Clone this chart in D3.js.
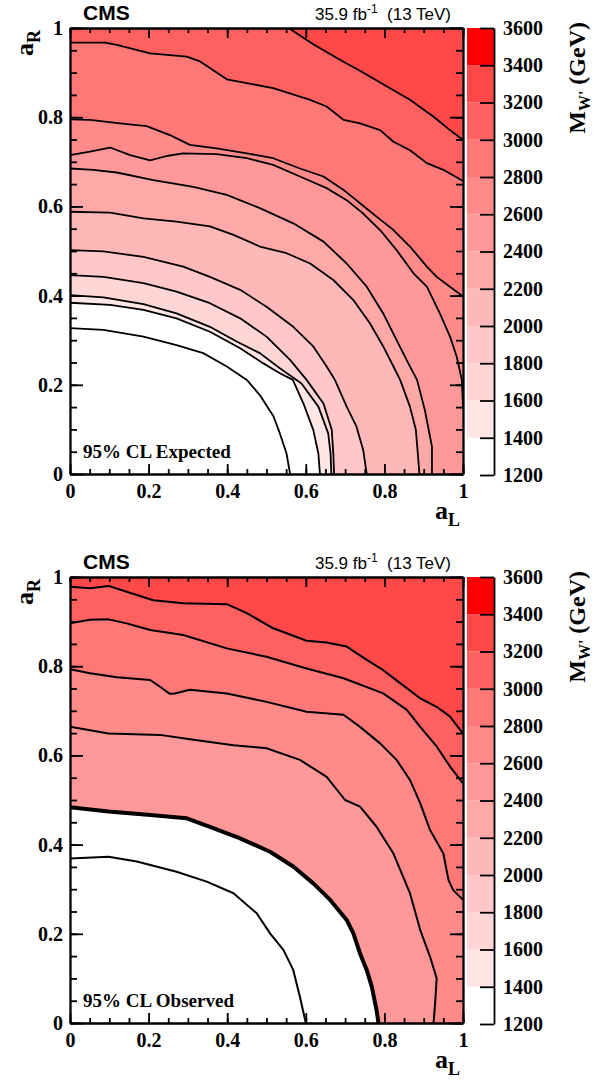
<!DOCTYPE html>
<html>
<head>
<meta charset="utf-8">
<script src="https://cdn.jsdelivr.net/npm/d3@7"></script>
<style>
  body { margin: 0; background: #fff; }
</style>
</head>
<body>
<div id="chart"></div>
<script>
// colour bar levels (GeV) and the fill of each band between them
const zLevels = [1200, 1400, 1600, 1800, 2000, 2200, 2400, 2600, 2800, 3000, 3200, 3400, 3600];
const bandColors = ["#ffffff", "#ffe6e6", "#ffd6d6", "#ffc7c7", "#ffb8b8", "#ffa8a8",
                    "#ff9999", "#ff8a8a", "#ff7878", "#ff6060", "#ff4848", "#ff0000"];
const xTicks = [0, 0.2, 0.4, 0.6, 0.8, 1];
const yTicks = [0, 0.2, 0.4, 0.6, 0.8, 1];

// expected limit contours, [aL, aR] points, one per level
const expLevels = [1200, 1400, 1600, 1800, 2000, 2200, 2400, 2600, 2800, 3000, 3200];
const expContours = [
  [[0,0.327],[0.085,0.323],[0.187,0.308],[0.271,0.289],[0.339,0.271],[0.399,0.241],[0.45,0.211],[0.483,0.177],[0.518,0.129],[0.534,0.091],[0.551,0.046],[0.56,0]],
  [[0,0.384],[0.102,0.379],[0.187,0.368],[0.271,0.349],[0.356,0.319],[0.433,0.282],[0.492,0.248],[0.534,0.226],[0.567,0.211],[0.594,0.158],[0.619,0.099],[0.632,0.046],[0.636,0]],
  [[0,0.401],[0.085,0.396],[0.187,0.381],[0.271,0.36],[0.356,0.33],[0.424,0.297],[0.483,0.271],[0.534,0.237],[0.589,0.203],[0.632,0.151],[0.657,0.091],[0.663,0.046],[0.665,0]],
  [[0,0.446],[0.085,0.442],[0.187,0.428],[0.271,0.409],[0.356,0.383],[0.433,0.349],[0.5,0.308],[0.56,0.256],[0.602,0.211],[0.645,0.158],[0.666,0.099],[0.67,0.046],[0.672,0]],
  [[0,0.502],[0.085,0.499],[0.187,0.487],[0.288,0.465],[0.356,0.442],[0.433,0.413],[0.5,0.375],[0.568,0.33],[0.619,0.286],[0.653,0.241],[0.674,0.211],[0.704,0.151],[0.729,0.106],[0.746,0.054],[0.755,0]],
  [[0,0.588],[0.102,0.586],[0.187,0.573],[0.271,0.566],[0.356,0.555],[0.416,0.536],[0.483,0.51],[0.551,0.495],[0.611,0.472],[0.67,0.435],[0.721,0.39],[0.763,0.338],[0.797,0.286],[0.823,0.241],[0.84,0.211],[0.865,0.151],[0.88,0.099],[0.885,0.046],[0.889,0]],
  [[0,0.685],[0.059,0.682],[0.119,0.676],[0.212,0.659],[0.314,0.644],[0.399,0.626],[0.483,0.596],[0.568,0.562],[0.645,0.521],[0.704,0.472],[0.755,0.42],[0.797,0.36],[0.831,0.3],[0.861,0.248],[0.883,0.211],[0.903,0.143],[0.916,0.084],[0.921,0.061],[0.921,0]],
  [[0,0.715],[0.051,0.723],[0.102,0.732],[0.153,0.715],[0.204,0.703],[0.246,0.713],[0.288,0.719],[0.373,0.717],[0.45,0.708],[0.517,0.693],[0.585,0.667],[0.653,0.641],[0.704,0.614],[0.746,0.584],[0.789,0.547],[0.831,0.502],[0.874,0.45],[0.908,0.42],[0.941,0.36],[0.967,0.308],[0.984,0.263],[0.997,0.211],[1,0.15]],
  [[0,0.795],[0.051,0.794],[0.127,0.786],[0.195,0.78],[0.254,0.76],[0.305,0.738],[0.373,0.73],[0.45,0.719],[0.517,0.708],[0.585,0.685],[0.645,0.667],[0.696,0.637],[0.738,0.607],[0.78,0.577],[0.823,0.547],[0.865,0.51],[0.908,0.465],[0.933,0.442],[1,0.398]],
  [[0,0.967],[0.089,0.967],[0.119,0.962],[0.204,0.943],[0.254,0.939],[0.297,0.936],[0.331,0.925],[0.399,0.885],[0.517,0.865],[0.611,0.839],[0.653,0.824],[0.696,0.794],[0.738,0.786],[0.789,0.771],[0.823,0.745],[0.865,0.726],[0.908,0.697],[0.95,0.682],[1,0.657]],
  [[0.556,1],[0.62,0.963],[0.68,0.932],[0.74,0.903],[0.8,0.872],[0.865,0.839],[0.925,0.801],[0.967,0.771],[1,0.749]]
];

// observed limit contours; 1400-2400 all fall on the same (thick) line
const obsLevels = [1200, 2400, 2600, 2800, 3000, 3200];
const obsContours = [
  [[0,0.369],[0.098,0.373],[0.17,0.362],[0.271,0.339],[0.348,0.317],[0.416,0.291],[0.475,0.246],[0.509,0.201],[0.543,0.164],[0.568,0.119],[0.585,0.059],[0.6,0]],
  [[0,0.484],[0.098,0.474],[0.212,0.466],[0.297,0.459],[0.356,0.44],[0.433,0.414],[0.509,0.384],[0.568,0.351],[0.619,0.313],[0.662,0.276],[0.704,0.231],[0.721,0.201],[0.738,0.156],[0.755,0.119],[0.768,0.081],[0.78,0.029],[0.785,0]],
  [[0,0.664],[0.098,0.649],[0.229,0.646],[0.314,0.635],[0.416,0.623],[0.5,0.616],[0.585,0.59],[0.653,0.552],[0.7,0.5],[0.738,0.485],[0.78,0.44],[0.823,0.38],[0.865,0.291],[0.891,0.209],[0.916,0.149],[0.933,0.1],[0.929,0.044],[0.925,0]],
  [[0,0.793],[0.051,0.784],[0.119,0.775],[0.204,0.769],[0.229,0.754],[0.254,0.738],[0.267,0.739],[0.305,0.747],[0.399,0.739],[0.5,0.72],[0.602,0.698],[0.696,0.691],[0.738,0.664],[0.789,0.627],[0.831,0.59],[0.865,0.545],[0.891,0.493],[0.916,0.433],[0.95,0.38],[0.963,0.321],[0.975,0.298],[1,0.276]],
  [[0,0.896],[0.051,0.904],[0.098,0.905],[0.144,0.896],[0.204,0.881],[0.288,0.87],[0.399,0.84],[0.5,0.821],[0.602,0.795],[0.696,0.773],[0.797,0.739],[0.857,0.702],[0.891,0.664],[0.933,0.62],[0.967,0.575],[1,0.537]],
  [[0,0.978],[0.051,0.975],[0.098,0.98],[0.144,0.967],[0.212,0.948],[0.288,0.941],[0.399,0.939],[0.45,0.919],[0.517,0.885],[0.602,0.857],[0.653,0.853],[0.704,0.844],[0.755,0.814],[0.797,0.791],[0.84,0.762],[0.891,0.728],[0.933,0.709],[0.967,0.687],[1,0.649]]
];

const serif = "'Liberation Serif', 'Times New Roman', serif";
const sans = "'Liberation Sans', Arial, sans-serif";

let w = 612;
let h = 1081;
let left = 70, right = 463;
let barX = 467, barW = 27;

const panels = [
  { top: 28, bottom: 474, levels: expLevels, contours: expContours, label: "95% CL Expected", lineW: 1.8 },
  { top: 577, bottom: 1023, levels: obsLevels, contours: obsContours, label: "95% CL Observed", lineW: 2 }
];

const svg = d3.select("#chart").append("svg").attr("width", w).attr("height", h);

const xScale = d3.scaleLinear().domain([0, 1]).range([left, right]);
const color = d3.scaleThreshold().domain(zLevels.slice(1, -1)).range(bandColors);
const minor = d3.range(21).map((i) => i * 0.05);

// ROOT-like styling; each tick mark becomes a small filled rect
function styleAxis(g) {
  g.selectAll(".tick line").each(function () {
    let ln = d3.select(this);
    let x2 = +ln.attr("x2") || 0;
    let y2 = +ln.attr("y2") || 0;
    let vertical = y2 !== 0;
    d3.select(this.parentNode).insert("rect", "line")
      .attr("x", vertical ? -0.9 : Math.min(0, x2))
      .attr("y", vertical ? Math.min(0, y2) : -0.9)
      .attr("width", vertical ? 1.8 : Math.abs(x2))
      .attr("height", vertical ? Math.abs(y2) : 1.8)
      .attr("fill", "#000");
    ln.remove();
  });
  g.selectAll(".domain").attr("stroke", "#000").attr("stroke-width", 1.8);
  g.attr("font-family", serif).attr("font-weight", "bold").attr("font-size", 20);
  g.selectAll("text").attr("fill", "#000");
}

panels.forEach((p, i) => {
  let yScale = d3.scaleLinear().domain([0, 1]).range([p.bottom, p.top]);
  let zScale = d3.scaleLinear().domain([1200, 3600]).range([p.bottom + 1, p.top]);
  let line = d3.line().x((d) => xScale(d[0])).y((d) => yScale(d[1]));

  let g = svg.append("g");
  g.append("clipPath").attr("id", "clip" + i)
    .append("rect")
    .attr("x", left).attr("y", p.top)
    .attr("width", right - left).attr("height", p.bottom - p.top);

  let plot = g.append("g").attr("clip-path", `url(#clip${i})`);
  plot.append("rect")
    .attr("x", left).attr("y", p.top)
    .attr("width", right - left).attr("height", p.bottom - p.top)
    .attr("fill", "#fff");

  // filled bands: region beyond each contour gets the colour of [level, level+200]
  plot.selectAll("path.band")
    .data(p.contours)
    .enter()
    .append("path")
    .attr("class", "band")
    .attr("d", (c) => {
      let last = c[c.length - 1];
      return line(c.concat([[1, last[1]], [1, 1], [0, 1]])) + "Z";
    })
    .attr("fill", (c, k) => color(p.levels[k] + 1));

  // contour lines; several coincident levels make a thicker line
  plot.selectAll("path.cont")
    .data(p.contours)
    .enter()
    .append("path")
    .attr("class", "cont")
    .attr("d", (c) => line(c))
    .attr("fill", "none")
    .attr("stroke", "#000")
    .attr("stroke-linejoin", "round")
    .attr("stroke-width", (c, k) => (k > 0 && p.levels[k] - p.levels[k - 1] > 200 ? 4 : p.lineW));

  // colour bar
  g.selectAll("rect.bar")
    .data(bandColors)
    .enter()
    .append("rect")
    .attr("class", "bar")
    .attr("x", barX)
    .attr("width", barW)
    .attr("y", (c, k) => zScale(zLevels[k + 1]))
    .attr("height", (c, k) => zScale(zLevels[k]) - zScale(zLevels[k + 1]))
    .attr("fill", (c) => c);

  // axes, ticks pointing inwards
  let axes = g.append("g");
  axes.append("g").attr("transform", `translate(0,${p.bottom})`)
    .call(d3.axisBottom(xScale).tickValues(minor).tickSize(-5).tickSizeOuter(0).tickFormat(""))
    .call(styleAxis);
  axes.append("g").attr("transform", `translate(0,${p.bottom})`)
    .call(d3.axisBottom(xScale).tickValues(xTicks).tickSize(-10).tickSizeOuter(0).tickPadding(10).tickFormat((d) => d))
    .call(styleAxis);
  axes.append("g").attr("transform", `translate(0,${p.top})`)
    .call(d3.axisTop(xScale).tickValues(minor).tickSize(-5).tickSizeOuter(0).tickFormat(""))
    .call(styleAxis);
  axes.append("g").attr("transform", `translate(0,${p.top})`)
    .call(d3.axisTop(xScale).tickValues(xTicks).tickSize(-10).tickSizeOuter(0).tickFormat(""))
    .call(styleAxis);
  axes.append("g").attr("transform", `translate(${left},0)`)
    .call(d3.axisLeft(yScale).tickValues(minor).tickSize(-7).tickSizeOuter(0).tickFormat(""))
    .call(styleAxis);
  axes.append("g").attr("transform", `translate(${left},0)`)
    .call(d3.axisLeft(yScale).tickValues(yTicks).tickSize(-13).tickSizeOuter(0).tickPadding(7).tickFormat((d) => d))
    .call(styleAxis);
  axes.append("g").attr("transform", `translate(${right},0)`)
    .call(d3.axisRight(yScale).tickValues(minor).tickSize(-7).tickSizeOuter(0).tickFormat(""))
    .call(styleAxis);
  axes.append("g").attr("transform", `translate(${right},0)`)
    .call(d3.axisRight(yScale).tickValues(yTicks).tickSize(-13).tickSizeOuter(0).tickFormat(""))
    .call(styleAxis);
  axes.append("g").attr("transform", `translate(${barX + barW},0)`)
    .call(d3.axisRight(zScale).tickValues(zLevels).tickSize(-14).tickSizeOuter(0).tickPadding(9).tickFormat((d) => d))
    .call(styleAxis);

  // titles
  g.append("text")
    .attr("x", 83).attr("y", p.top - 8)
    .attr("font-family", sans).attr("font-weight", "bold").attr("font-size", 21)
    .text("CMS");
  let lumi = g.append("text")
    .attr("x", 451).attr("y", p.top - 8)
    .attr("text-anchor", "end")
    .attr("font-family", sans).attr("font-size", 17);
  lumi.append("tspan").text("35.9 fb");
  lumi.append("tspan").attr("font-size", 12).attr("dy", -7).text("-1");
  lumi.append("tspan").attr("dy", 7).text("  (13 TeV)").attr("xml:space", "preserve");

  g.append("text")
    .attr("x", 83).attr("y", p.bottom - 16)
    .attr("font-family", serif).attr("font-weight", "bold").attr("font-size", 19)
    .text(p.label);

  let xt = g.append("text")
    .attr("x", 460).attr("y", p.bottom + 45)
    .attr("text-anchor", "end")
    .attr("font-family", serif).attr("font-weight", "bold").attr("font-size", 26);
  xt.append("tspan").text("a");
  xt.append("tspan").attr("font-size", 18).attr("dy", 7).text("L");

  let yt = g.append("text")
    .attr("transform", `translate(33,${p.top + 2}) rotate(-90)`)
    .attr("text-anchor", "end")
    .attr("font-family", serif).attr("font-weight", "bold").attr("font-size", 26);
  yt.append("tspan").text("a");
  yt.append("tspan").attr("font-size", 18).attr("dy", 7).text("R");

  let zt = g.append("text")
    .attr("transform", `translate(585,${p.top - 6}) rotate(-90)`)
    .attr("text-anchor", "end")
    .attr("font-family", serif).attr("font-weight", "bold").attr("font-size", 24);
  zt.append("tspan").text("M");
  zt.append("tspan").attr("font-size", 16).attr("dy", 5).text("W'");
  zt.append("tspan").attr("dy", -5).text(" (GeV)");
});
</script>
</body>
</html>
